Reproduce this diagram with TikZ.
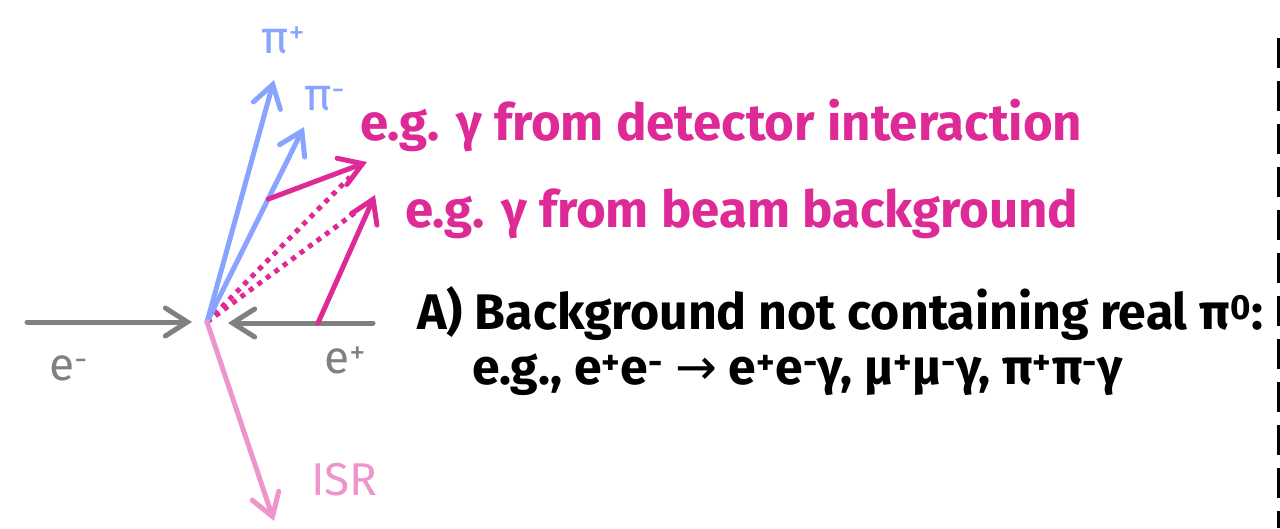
\documentclass[tikz,border=0pt]{standalone}
\usepackage{fontspec}
\setmainfont{Fira Sans}
\newfontfamily\arrowfont{DejaVu Sans}
\usetikzlibrary{arrows.meta,calc}

\definecolor{beamgray}{RGB}{128,128,128}
\definecolor{pionblue}{RGB}{136,164,255}
\definecolor{gammapink}{RGB}{221,42,150}
\definecolor{isrpink}{RGB}{238,150,204}

\begin{document}
\begin{tikzpicture}[
  x=1pt, y=-1pt,
  track/.style={line width=5pt, line cap=round,
                -{Straight Barb[length=22pt, width=28pt, line cap=round]}, color=#1},
  track/.default={beamgray},
  fake/.style={line width=5pt, dash pattern=on 5pt off 5.5pt, color=gammapink},
  lbl/.style={font=\fontsize{46}{50}\selectfont, anchor=base west, inner sep=0pt, text=#1},
  say/.style={font=\fontsize{51}{56}\selectfont\bfseries, anchor=base west, inner sep=0pt, text=#1},
  say/.default={black},
  saysmall/.style={say, font=\fontsize{50}{56}\selectfont\bfseries}
]
  \useasboundingbox (0,0) rectangle (1280,528);

  % vertex and end points
  \coordinate (vtx) at (207,322);
  \coordinate (em0) at (27,322);
  \coordinate (em1) at (192,322);
  \coordinate (ep0) at (373,323);
  \coordinate (ep1) at (228,323);
  \coordinate (pip) at (274,80);
  \coordinate (pim) at (304,127);
  \coordinate (isr) at (274,521);
  \coordinate (gdet0) at ($(vtx)!0.63!(pim)$);
  \coordinate (gdet1) at (367,162);
  \coordinate (gbeam0) at (318,323);
  \coordinate (gbeam1) at (375,195);

  % fake pairings
  \draw[fake] (vtx) -- (350,177) coordinate (fk1);
  \draw[fake] (vtx) -- (356,212) coordinate (fk2);

  % beams
  \draw[track] (em0) -- (em1);
  \draw[track] (ep0) -- (ep1);

  % final state
  \draw[track=pionblue] (vtx) -- (pip);
  \draw[track=pionblue] (vtx) -- (pim);
  \draw[track=isrpink] (vtx) -- (isr);
  \draw[track=gammapink] (gdet0) -- (gdet1);
  \draw[track=gammapink] (gbeam0) -- (gbeam1);

  % labels
  \node[lbl=pionblue] (lpip) at (261,53) {π\textsuperscript{+}};
  \node[lbl=pionblue] (lpim) at (304,110) {π\textsuperscript{-}};
  \node[lbl=beamgray] (lem) at (49,380) {e\textsuperscript{-}};
  \node[lbl=beamgray] (lep) at (324,373) {e\textsuperscript{+}};
  \node[lbl=isrpink] (lisr) at (311,495) {ISR};

  \node[say=gammapink] (tdet) at (360,140) {e.g. γ from detector interaction};
  \node[say=gammapink] (tbeam) at (405,227) {e.g. γ from beam background};
  \node[saysmall] (tbg) at (417,329) {A) Background not containing real π\textsuperscript{0}:};
  \node[saysmall] (tex) at (472,384) {e.g., e\textsuperscript{+}e\textsuperscript{-} {\arrowfont\mdseries →} e\textsuperscript{+}e\textsuperscript{-}γ, μ\textsuperscript{+}μ\textsuperscript{-}γ, π\textsuperscript{+}π\textsuperscript{-}γ};

  % divider
  \coordinate (div0) at (1278.5,38);
  \coordinate (div1) at (1278.5,528);
  \draw[line width=3pt, dash pattern=on 30pt off 13pt] (div0) -- (div1);
\end{tikzpicture}
\end{document}
